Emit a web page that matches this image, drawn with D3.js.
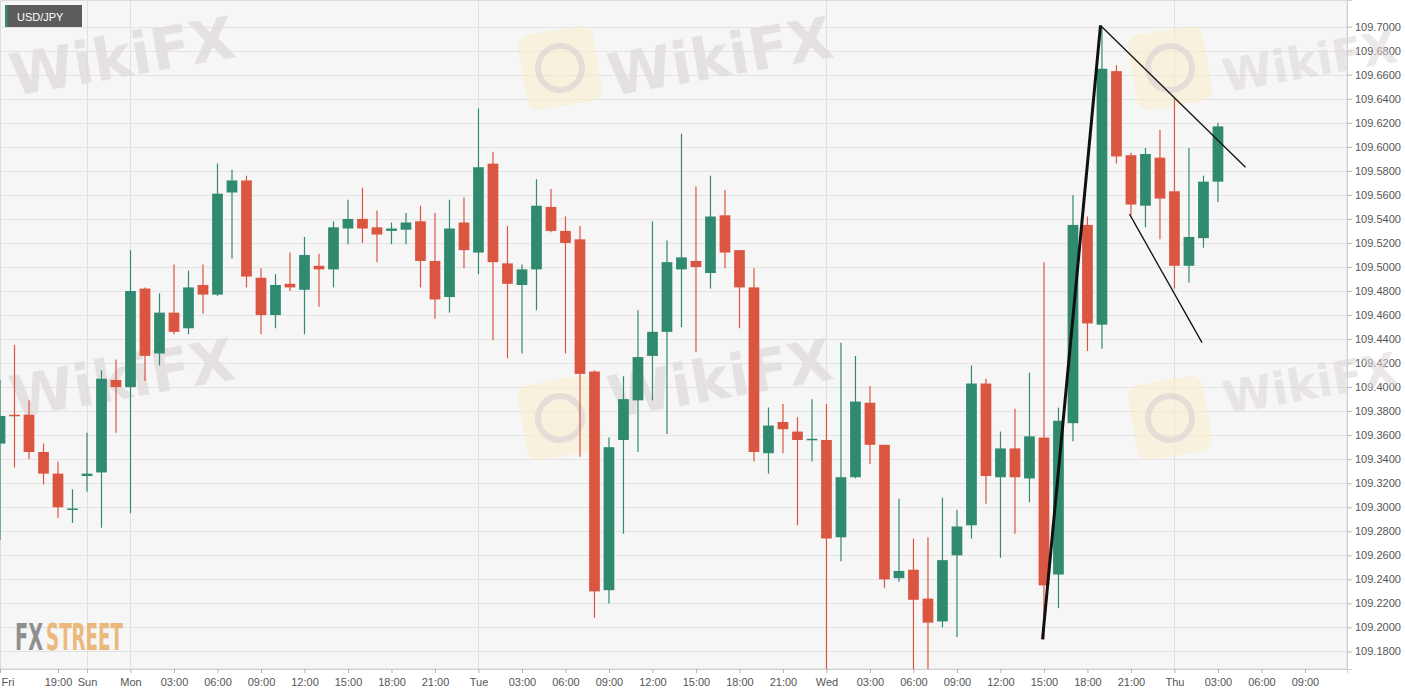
<!DOCTYPE html>
<html>
<head>
<meta charset="utf-8">
<script src="https://cdn.jsdelivr.net/npm/d3@7"></script>
<style>
  html, body { margin: 0; padding: 0; background: #ffffff; }
  svg { display: block; font-family: "Liberation Sans", Arial, sans-serif; }
</style>
</head>
<body>
<div id="chart"></div>
<script>
// hourly USD/JPY candles, Fri 15:00 -> Thu 03:00 (weekend gap skipped)
const opens = [
  109.353, 109.377, 109.377, 109.346, 109.328, 109.298, 109.326, 109.329, 109.406, 109.400,
  109.482, 109.428, 109.462, 109.449, 109.485, 109.477, 109.562, 109.572, 109.491, 109.460,
  109.486, 109.481, 109.501, 109.498, 109.532, 109.540, 109.533, 109.530, 109.531, 109.538,
  109.505, 109.475, 109.537, 109.512, 109.586, 109.503, 109.485, 109.498, 109.550, 109.530,
  109.523, 109.413, 109.231, 109.356, 109.389, 109.426, 109.446, 109.498, 109.505, 109.495,
  109.543, 109.514, 109.483, 109.345, 109.371, 109.363, 109.356, 109.356, 109.275, 109.325,
  109.387, 109.352, 109.241, 109.248, 109.224, 109.205, 109.260, 109.285, 109.403, 109.325,
  109.349, 109.324, 109.358, 109.244, 109.370, 109.535, 109.452, 109.663, 109.593, 109.551,
  109.591, 109.563, 109.501, 109.524, 109.571
];
const highs = [
  109.406, 109.435, 109.389, 109.353, 109.338, 109.315, 109.362, 109.414, 109.423, 109.514,
  109.483, 109.478, 109.502, 109.497, 109.502, 109.586, 109.581, 109.576, 109.499, 109.494,
  109.512, 109.525, 109.511, 109.538, 109.556, 109.566, 109.547, 109.537, 109.545, 109.551,
  109.545, 109.556, 109.558, 109.632, 109.596, 109.534, 109.502, 109.573, 109.565, 109.542,
  109.534, 109.414, 109.358, 109.409, 109.464, 109.538, 109.522, 109.611, 109.567, 109.576,
  109.564, 109.514, 109.499, 109.383, 109.386, 109.375, 109.390, 109.386, 109.437, 109.426,
  109.401, 109.352, 109.307, 109.274, 109.275, 109.308, 109.298, 109.418, 109.407, 109.363,
  109.382, 109.412, 109.504, 109.383, 109.560, 109.542, 109.700, 109.668, 109.595, 109.599,
  109.614, 109.641, 109.599, 109.576, 109.620
];
const lows = [
  109.273, 109.333, 109.340, 109.319, 109.291, 109.287, 109.313, 109.283, 109.362, 109.295,
  109.405, 109.418, 109.444, 109.444, 109.461, 109.476, 109.507, 109.483, 109.444, 109.449,
  109.480, 109.444, 109.467, 109.483, 109.519, 109.520, 109.504, 109.519, 109.519, 109.483,
  109.457, 109.462, 109.499, 109.494, 109.439, 109.424, 109.428, 109.464, 109.529, 109.428,
  109.342, 109.208, 109.220, 109.278, 109.346, 109.389, 109.361, 109.450, 109.429, 109.482,
  109.499, 109.449, 109.338, 109.328, 109.345, 109.285, 109.338, 109.160, 109.255, 109.324,
  109.336, 109.233, 109.238, 109.160, 109.160, 109.200, 109.192, 109.274, 109.303, 109.258,
  109.278, 109.304, 109.190, 109.216, 109.355, 109.430, 109.432, 109.586, 109.543, 109.533,
  109.523, 109.482, 109.487, 109.516, 109.554
];
const closes = [
  109.376, 109.376, 109.346, 109.328, 109.300, 109.299, 109.328, 109.407, 109.400, 109.480,
  109.426, 109.462, 109.446, 109.483, 109.477, 109.561, 109.572, 109.492, 109.460, 109.485,
  109.483, 109.510, 109.498, 109.533, 109.540, 109.532, 109.527, 109.532, 109.537, 109.505,
  109.473, 109.532, 109.514, 109.583, 109.504, 109.486, 109.498, 109.551, 109.530, 109.520,
  109.411, 109.230, 109.350, 109.390, 109.425, 109.446, 109.504, 109.508, 109.500, 109.542,
  109.512, 109.483, 109.346, 109.368, 109.365, 109.356, 109.357, 109.274, 109.325, 109.388,
  109.352, 109.240, 109.247, 109.223, 109.204, 109.256, 109.284, 109.403, 109.326, 109.349,
  109.325, 109.359, 109.235, 109.372, 109.535, 109.453, 109.665, 109.592, 109.552, 109.594,
  109.557, 109.501, 109.525, 109.571, 109.617
];

const priceTicks = d3.range(109.18, 109.7001, 0.02);
const timeTickIndex = [0, 4, 6, 9, 12, 15, 18, 21, 24, 27, 30, 33, 36, 39, 42, 45, 48, 51, 54,
  57, 60, 63, 66, 69, 72, 75, 78, 81, 84, 87, 90];
const timeTickLabels = ["Fri", "19:00", "Sun", "Mon", "03:00", "06:00", "09:00", "12:00", "15:00",
  "18:00", "21:00", "Tue", "03:00", "06:00", "09:00", "12:00", "15:00", "18:00", "21:00",
  "Wed", "03:00", "06:00", "09:00", "12:00", "15:00", "18:00", "21:00", "Thu", "03:00", "06:00", "09:00"];
const dayBreaks = [6, 9, 33, 57, 81];

// drawn trend lines: [candle index, price] pairs
const trendStarts = [[71.9, 109.19], [75.9, 109.701], [77.9, 109.544]];
const trendEnds = [[75.9, 109.701], [85.9, 109.583], [82.9, 109.437]];

const width = 1405;
const height = 695;
const plotW = 1347;
const plotH = 669;
const upColor = "#2f8a70";
const downColor = "#db5641";

const candles = opens.map((o, i) => ({ i, o, h: highs[i], l: lows[i], c: closes[i] }));

const x = d3.scaleLinear().domain([0, 92.9]).range([0, plotW]);
const y = d3.scaleLinear().domain([109.1654, 109.7222]).range([plotH, 0]);
const bodyW = (x(1) - x(0)) * 0.74;

const svg = d3
  .select("#chart")
  .append("svg")
  .attr("width", width)
  .attr("height", height);

svg.append("rect").attr("width", width).attr("height", height).attr("fill", "#ffffff");

svg
  .append("defs")
  .append("clipPath")
  .attr("id", "plot-clip")
  .append("rect")
  .attr("x", 0)
  .attr("y", 0)
  .attr("width", plotW)
  .attr("height", plotH);

svg
  .append("rect")
  .attr("x", 0.5)
  .attr("y", 0.5)
  .attr("width", plotW - 0.5)
  .attr("height", plotH - 0.5)
  .attr("fill", "#f6f6f6")
  .attr("stroke", "#dcdcdc");

// grid
svg
  .append("g")
  .selectAll("line")
  .data(priceTicks)
  .enter()
  .append("line")
  .attr("x1", 0)
  .attr("x2", plotW)
  .attr("y1", (d) => Math.round(y(d)) + 0.5)
  .attr("y2", (d) => Math.round(y(d)) + 0.5)
  .attr("stroke", "#e3e3e3");

svg
  .append("g")
  .selectAll("line")
  .data(dayBreaks)
  .enter()
  .append("line")
  .attr("x1", (d) => Math.round(x(d)) + 0.5)
  .attr("x2", (d) => Math.round(x(d)) + 0.5)
  .attr("y1", 0)
  .attr("y2", plotH)
  .attr("stroke", "#e0e0e0");

// watermarks
const marks = svg.append("g");
const markText = [[14, 96], [612, 96], [1226, 92], [14, 418], [612, 418], [1226, 414]];
const markLogo = [[522, 30], [1132, 30], [522, 380], [1132, 380]];
markLogo.forEach(([lx, ly]) => {
  const g = marks.append("g").attr("transform", `translate(${lx + 38},${ly + 38}) rotate(-10)`);
  g.append("rect")
    .attr("x", -38).attr("y", -38).attr("width", 76).attr("height", 76).attr("rx", 12)
    .attr("fill", "#f7ecc8").attr("opacity", 0.55);
  g.append("circle").attr("r", 22).attr("fill", "none")
    .attr("stroke", "#dcd6d6").attr("stroke-width", 6).attr("opacity", 0.7);
});
marks
  .selectAll("text")
  .data(markText.filter((d) => d[0] < 1000))
  .enter()
  .append("text")
  .attr("transform", (d) => `translate(${d[0]},${d[1]}) rotate(-10)`)
  .attr("font-size", 58)
  .attr("font-weight", "bold")
  .attr("font-family", "'DejaVu Sans', sans-serif")
  .attr("fill", "#e2dcdc")
  .attr("opacity", 0.8)
  .text("WikiFX");

// candles
const cg = svg.append("g").attr("clip-path", "url(#plot-clip)");
const candle = cg.selectAll(".candle").data(candles).enter().append("g").attr("class", "candle");
candle
  .append("line")
  .attr("x1", (d) => x(d.i))
  .attr("x2", (d) => x(d.i))
  .attr("y1", (d) => y(d.h))
  .attr("y2", (d) => y(d.l))
  .attr("stroke", (d) => (d.c >= d.o ? upColor : downColor))
  .attr("stroke-width", 1.2);
candle
  .append("rect")
  .attr("x", (d) => x(d.i) - bodyW / 2)
  .attr("width", bodyW)
  .attr("y", (d) => y(Math.max(d.o, d.c)))
  .attr("height", (d) => Math.max(1.5, Math.abs(y(d.o) - y(d.c))))
  .attr("fill", (d) => (d.c >= d.o ? upColor : downColor));

// trend lines
svg
  .append("g")
  .selectAll("line")
  .data(trendStarts)
  .enter()
  .append("line")
  .attr("x1", (d) => x(d[0]))
  .attr("y1", (d) => y(d[1]))
  .attr("x2", (d, i) => x(trendEnds[i][0]))
  .attr("y2", (d, i) => y(trendEnds[i][1]))
  .attr("stroke", "#111")
  .attr("stroke-width", (d, i) => (i === 0 ? 3 : 1.3));

// axes
const yAxis = svg
  .append("g")
  .attr("transform", `translate(${plotW},0)`)
  .call(d3.axisRight(y).tickValues(priceTicks).tickFormat(d3.format(".4f")).tickSize(5));
const xAxis = svg
  .append("g")
  .attr("transform", `translate(0,${plotH})`)
  .call(
    d3.axisBottom(x)
      .tickValues(timeTickIndex)
      .tickFormat((d, i) => timeTickLabels[i])
      .tickSize(4)
  );
[yAxis, xAxis].forEach((a) => {
  a.select(".domain").attr("stroke", "#cfcfcf");
  a.selectAll(".tick line").attr("stroke", "#b5b5b5");
  a.selectAll(".tick text")
    .attr("fill", "#555")
    .attr("font-size", 11)
    .attr("font-family", "'Liberation Sans', Arial, sans-serif");
});
xAxis.selectAll(".tick text").attr("dy", "0.92em");
xAxis.selectAll(".tick text").filter((d) => d === 0).attr("text-anchor", "start").attr("x", 1);

// right-hand watermarks sit over the price labels
svg
  .append("g")
  .selectAll("text")
  .data(markText.filter((d) => d[0] > 1000))
  .enter()
  .append("text")
  .attr("transform", (d) => `translate(${d[0]},${d[1]}) rotate(-10)`)
  .attr("font-size", 45)
  .attr("font-weight", "bold")
  .attr("font-family", "'DejaVu Sans', sans-serif")
  .attr("fill", "#ddd6d6")
  .attr("opacity", 0.55)
  .text("WikiFX");

// symbol badge
svg.append("rect").attr("x", 5).attr("y", 5).attr("width", 77).attr("height", 22).attr("fill", "#5c5c5c");
svg.append("rect").attr("x", 5).attr("y", 5).attr("width", 2.7).attr("height", 22).attr("fill", upColor);
svg
  .append("text")
  .attr("x", 17)
  .attr("y", 20.5)
  .attr("fill", "#ffffff")
  .attr("font-size", 11)
  .text("USD/JPY");

// FXSTREET logo, squeezed to the width it has in the picture
const logoParts = [
  { text: "FX", x: 15, w: 28, fill: "#8f8f8f" },
  { text: "STREET", x: 46, w: 77, fill: "#ebb97c" },
];
logoParts.forEach((p) => {
  const t = svg
    .append("text")
    .attr("font-size", 38)
    .attr("font-weight", "bold")
    .attr("font-family", "'DejaVu Sans Condensed', 'Liberation Sans Narrow', sans-serif")
    .attr("fill", p.fill)
    .text(p.text);
  const natural = t.node().getComputedTextLength();
  t.attr("transform", `translate(${p.x},650) scale(${p.w / natural},1)`);
});
</script>
</body>
</html>
